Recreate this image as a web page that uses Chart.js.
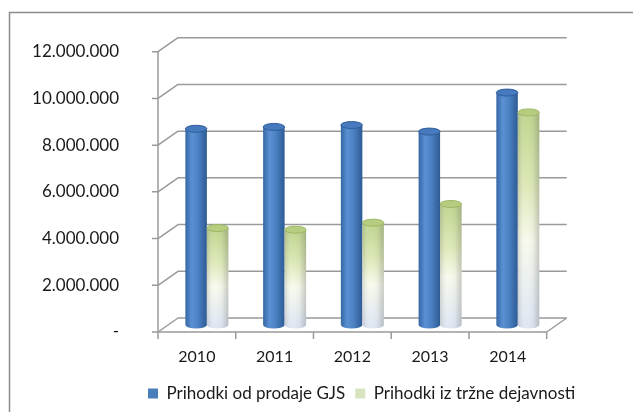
<!DOCTYPE html>
<html>
<head>
<meta charset="utf-8">
<script src="https://cdn.jsdelivr.net/npm/chart.js@4.4.1/dist/chart.umd.min.js"></script>
<style>
  html, body { margin: 0; padding: 0; background: #fff; }
  canvas { display: block; }
</style>
</head>
<body>
<canvas id="chart" width="633" height="412"></canvas>
<script>
const years = ["2010", "2011", "2012", "2013", "2014"];
const gjsRevenue = [8400000, 8480000, 8560000, 8280000, 9950000];
const marketRevenue = [4150000, 4080000, 4380000, 5180000, 9100000];
const seriesNames = ["Prihodki od prodaje GJS", "Prihodki iz tržne dejavnosti"];
const yTicks = [0, 2000000, 4000000, 6000000, 8000000, 10000000, 12000000];

// depth of the fake 3d box (back wall offset)
const DX = 20, DY = 14;
const GRID = "#9a9a9a";

function fmt(v) {
  if (v === 0) return "-";
  return String(v).replace(/\B(?=(\d{3})+(?!\d))/g, ".");
}

function drawCylinder(ctx, cx, hw, yTop, yBase, kind) {
  const ry = 3.5;
  const left = cx - hw, right = cx + hw;
  ctx.save();
  ctx.beginPath();
  ctx.moveTo(left, yTop);
  ctx.lineTo(left, yBase);
  ctx.ellipse(cx, yBase, hw, ry, 0, Math.PI, 0, true);
  ctx.lineTo(right, yTop);
  ctx.closePath();

  if (kind === 0) {
    const g = ctx.createLinearGradient(left, 0, right, 0);
    g.addColorStop(0, "#3667a4");
    g.addColorStop(0.3, "#5b90d4");
    g.addColorStop(0.6, "#4b80c2");
    g.addColorStop(1, "#2d5a94");
    ctx.fillStyle = g;
    ctx.fill();
  } else {
    const g = ctx.createLinearGradient(0, yTop, 0, yBase);
    g.addColorStop(0, "#c0d58e");
    g.addColorStop(0.35, "#dde9b8");
    g.addColorStop(0.6, "#f7faec");
    g.addColorStop(1, "#dfe7f4");
    ctx.fillStyle = g;
    ctx.fill();
    const s = ctx.createLinearGradient(left, 0, right, 0);
    s.addColorStop(0, "rgba(90,90,90,0.22)");
    s.addColorStop(0.35, "rgba(255,255,255,0)");
    s.addColorStop(0.7, "rgba(90,90,90,0.05)");
    s.addColorStop(1, "rgba(90,90,90,0.3)");
    ctx.fillStyle = s;
    ctx.fill();
  }

  ctx.beginPath();
  ctx.ellipse(cx, yTop, hw, ry, 0, 0, Math.PI * 2);
  ctx.fillStyle = kind === 0 ? "#4679bd" : "#b6cd80";
  ctx.fill();
  ctx.lineWidth = 1;
  ctx.strokeStyle = kind === 0 ? "#2f5e9a" : "#9db868";
  ctx.stroke();
  ctx.restore();
}

const box3d = {
  id: "box3d",
  afterLayout(chart) {
    // legend starts under the plot, not at the canvas edge
    chart.legend.left = chart.chartArea.left - 20;
  },
  beforeDraw(chart) {
    const ctx = chart.ctx;
    ctx.save();
    ctx.fillStyle = "#fff";
    ctx.fillRect(0, 0, chart.width, chart.height);
    // frame (only top and left edge are inside the picture)
    ctx.strokeStyle = "#8c8c8c";
    ctx.lineWidth = 1.5;
    ctx.beginPath();
    ctx.moveTo(9.5, chart.height);
    ctx.lineTo(9.5, 12.5);
    ctx.lineTo(chart.width, 12.5);
    ctx.stroke();
    ctx.restore();
  },
  beforeDatasetsDraw(chart) {
    const ctx = chart.ctx;
    const { left, right, top, bottom } = chart.chartArea;
    const y = chart.scales.y;
    ctx.save();
    ctx.strokeStyle = GRID;
    ctx.lineWidth = 1.5;
    ctx.lineJoin = "round";
    y.ticks.forEach(t => {
      const py = y.getPixelForValue(t.value);
      ctx.beginPath();
      ctx.moveTo(left - 6, py);
      ctx.lineTo(left, py);
      ctx.lineTo(left + DX, py - DY);
      ctx.lineTo(right + DX, py - DY);
      ctx.stroke();
    });
    ctx.beginPath();
    ctx.moveTo(left, top);
    ctx.lineTo(left, bottom);
    ctx.lineTo(right, bottom);
    ctx.lineTo(right + DX, bottom - DY);
    ctx.stroke();
    const step = (right - left) / years.length;
    for (let i = 0; i <= years.length; i++) {
      const px = left + i * step;
      ctx.beginPath();
      ctx.moveTo(px, bottom);
      ctx.lineTo(px, bottom + 7);
      ctx.stroke();
    }
    ctx.restore();

    for (let i = 0; i < years.length; i++) {
      [0, 1].forEach(d => {
        const bar = chart.getDatasetMeta(d).data[i];
        drawCylinder(ctx, bar.x + DX / 2, bar.width / 2, bar.y - DY / 2, bar.base - DY / 2, d);
      });
    }
    return false;
  }
};

new Chart(document.getElementById("chart"), {
  type: "bar",
  data: {
    labels: years,
    datasets: [
      { label: seriesNames[0], data: gjsRevenue, backgroundColor: "#4a7ebb", borderWidth: 0 },
      { label: seriesNames[1], data: marketRevenue, backgroundColor: "#d8e4c0", borderWidth: 0 }
    ]
  },
  options: {
    responsive: false,
    animation: false,
    datasets: { bar: { categoryPercentage: 0.553, barPercentage: 1.0 } },
    layout: { padding: { left: 0, top: 51.7, right: 0, bottom: 0 } },
    plugins: {
      tooltip: { enabled: false },
      legend: {
        position: "bottom",
        align: "start",
        labels: {
          boxWidth: 10,
          boxHeight: 10,
          padding: 10,
          color: "#1a1a1a",
          font: { family: "Lato", size: 17 }
        }
      }
    },
    scales: {
      x: {
        grid: { display: false, drawTicks: false },
        border: { display: false },
        ticks: { color: "#1a1a1a", padding: 15.4, font: { family: "Lato", size: 16 } },
        afterFit(s) { s.height = 43; }
      },
      y: {
        min: 0,
        max: 12000000,
        afterBuildTicks(s) { s.ticks = yTicks.map(v => ({ value: v })); },
        grid: { display: false, drawTicks: false },
        border: { display: false },
        ticks: { color: "#1a1a1a", padding: 39, font: { family: "Lato", size: 17 }, callback: v => fmt(v) },
        afterFit(s) { s.width = 158; }
      },
      y2: {
        position: "right",
        grid: { display: false, drawTicks: false },
        border: { display: false },
        ticks: { display: false },
        afterFit(s) { s.width = 86.3; }
      }
    }
  },
  plugins: [box3d]
});
</script>
</body>
</html>
